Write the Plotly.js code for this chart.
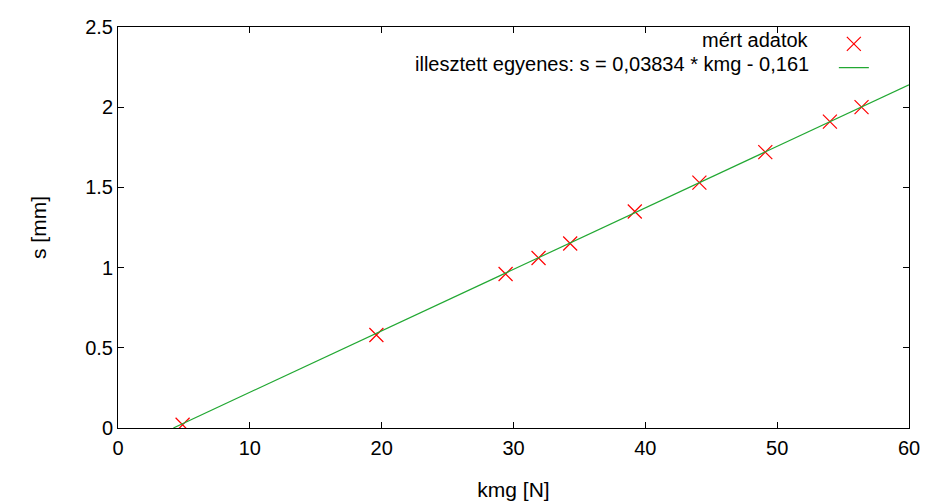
<!DOCTYPE html>
<html>
<head>
<meta charset="utf-8">
<script src="https://cdn.plot.ly/plotly-3.0.1.min.js"></script>
<style>html,body{margin:0;padding:0;background:#fff;}#chart{width:926px;height:503px;}</style>
</head>
<body>
<div id="chart"></div>
<script>
// measured data
const kmg = [4.9, 19.6, 29.4, 31.9, 34.3, 39.2, 44.1, 49.1, 54.0, 56.4];
const s = [0.02, 0.58, 0.96, 1.06, 1.15, 1.35, 1.53, 1.72, 1.91, 2.00];
// fitted line endpoints
const fitX = [4.2, 60];
const fitY = [0, 2.139];
const xTicks = [0, 10, 20, 30, 40, 50, 60];
const yTicks = [0, 0.5, 1, 1.5, 2, 2.5];
const yTickText = ['0', '0.5', '1', '1.5', '2', '2.5'];
const legendLabels = ['mért adatok', 'illesztett egyenes: s = 0,03834 * kmg - 0,161'];

const font = 'Liberation Sans, Arial, sans-serif';

const traces = [
  {x: kmg, y: s, type: 'scatter', mode: 'markers', name: ' ',
   marker: {symbol: 'x-thin', size: 14, color: '#ff0000', line: {color: '#ff0000', width: 1.2}}},
  {x: fitX, y: fitY, type: 'scatter', mode: 'lines', name: ' ',
   line: {color: '#22a833', width: 1.2}}
];

const axisCommon = {
  showgrid: false, zeroline: false, showline: true, mirror: 'ticks',
  linecolor: '#000', linewidth: 1, ticks: 'inside', ticklen: 6, tickcolor: '#000',
  tickfont: {family: font, size: 20, color: '#000'}
};

const layout = {
  width: 926, height: 503,
  margin: {l: 118, r: 17, t: 27, b: 75},
  paper_bgcolor: '#fff', plot_bgcolor: '#fff',
  showlegend: true,
  legend: {x: 0.905, y: 1.0, xanchor: 'left', yanchor: 'top', bgcolor: 'rgba(0,0,0,0)',
           font: {family: font, size: 16, color: '#000'}, tracegroupgap: 0},
  xaxis: Object.assign({}, axisCommon, {range: [0, 60], tickvals: xTicks, ticklabelstandoff: 2,
           title: {text: 'kmg [N]', font: {family: font, size: 21, color: '#000'}, standoff: 24}}),
  yaxis: Object.assign({}, axisCommon, {range: [0, 2.5], tickvals: yTicks, ticktext: yTickText,
           title: {text: 's [mm]', font: {family: font, size: 21, color: '#000'}, standoff: 32}}),
  annotations: [
    {xref: 'paper', yref: 'paper', x: 0.876, y: 0.967, xanchor: 'right', yanchor: 'middle',
     text: legendLabels[0], showarrow: false, font: {family: font, size: 20, color: '#000'}},
    {xref: 'paper', yref: 'paper', x: 0.876, y: 0.907, xanchor: 'right', yanchor: 'middle',
     text: legendLabels[1], showarrow: false, font: {family: font, size: 20, color: '#000'}}
  ]
};

Plotly.newPlot('chart', traces, layout, {staticPlot: true, displayModeBar: false});
</script>
</body>
</html>
